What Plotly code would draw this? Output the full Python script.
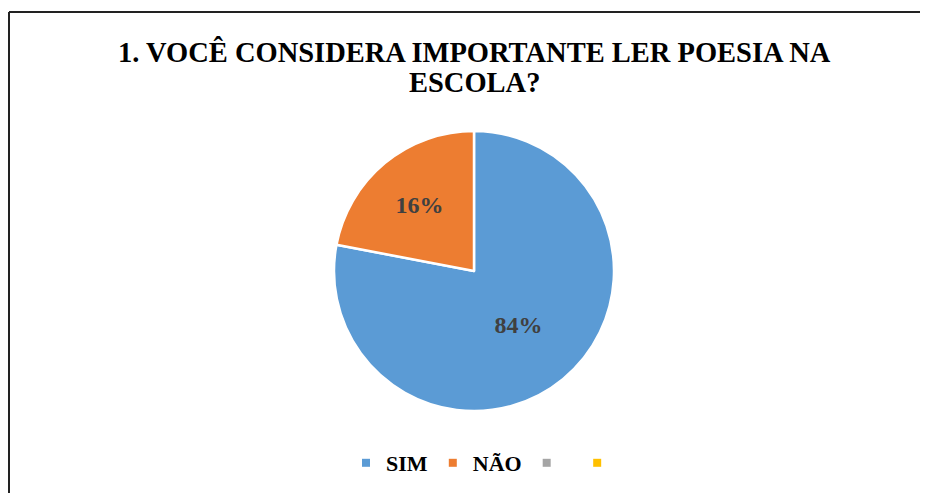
import plotly.graph_objects as go

categories = ["SIM", "NÃO"]
slice_values = [78, 22]
slice_labels = ["84%", "16%"]
legend_names = ["SIM", "NÃO", " ", "  "]
title_lines = ["1. VOCÊ CONSIDERA IMPORTANTE LER POESIA NA", "ESCOLA?"]

# office palette
colors = ["#5B9BD5", "#ED7D31", "#A5A5A5", "#FFC000"]

W, H = 928, 493
OFF = 8  # page body margin shifts the plot by 8px
serif = "Liberation Serif, Times New Roman, serif"


def px_x(x):
    return (x - OFF) / W


def px_y(y):
    return 1 - (y - OFF) / H


fig = go.Figure()

fig.add_trace(go.Pie(
    labels=categories,
    values=slice_values,
    text=slice_labels,
    textinfo="text",
    textposition="inside",
    insidetextorientation="horizontal",
    sort=False,
    direction="clockwise",
    rotation=0,
    marker=dict(colors=colors[:2], line=dict(color="white", width=2.5)),
    textfont=dict(family=serif, size=24, color="#404040", weight="bold"),
    domain=dict(x=[px_x(474 - 140), px_x(474 + 140)], y=[px_y(411), px_y(131)]),
    showlegend=False,
    hoverinfo="label+text",
))

# legend entries (incl. the two unlabeled ones)
for name, c in zip(legend_names, colors):
    fig.add_trace(go.Scatter(
        x=[None], y=[None], mode="markers", name=name,
        marker=dict(symbol="square", size=8, color=c),
    ))

for i, line in enumerate(title_lines):
    fig.add_annotation(
        text="<b>%s</b>" % line, x=px_x(475), y=px_y([51.5, 82.5][i]),
        xref="paper", yref="paper", xanchor="center", yanchor="middle",
        showarrow=False, font=dict(family=serif, size=28.5, color="black"),
    )

# chart frame (left and top edges visible)
fig.add_shape(type="line", xref="paper", yref="paper",
              x0=1 / W, x1=1 / W, y0=0, y1=px_y(12),
              line=dict(color="#222222", width=2))
fig.add_shape(type="line", xref="paper", yref="paper",
              x0=1 / W, x1=1, y0=px_y(12), y1=px_y(12),
              line=dict(color="#222222", width=2))

fig.update_layout(
    width=W, height=H,
    margin=dict(l=0, r=0, t=0, b=0),
    paper_bgcolor="white", plot_bgcolor="white",
    xaxis=dict(visible=False), yaxis=dict(visible=False),
    legend=dict(
        orientation="h", x=px_x(490), xanchor="center", y=px_y(463), yanchor="middle",
        font=dict(family=serif, size=22, color="black", weight="bold"),
        itemwidth=30, bgcolor="rgba(0,0,0,0)",
    ),
)

fig.write_html("out.html")
